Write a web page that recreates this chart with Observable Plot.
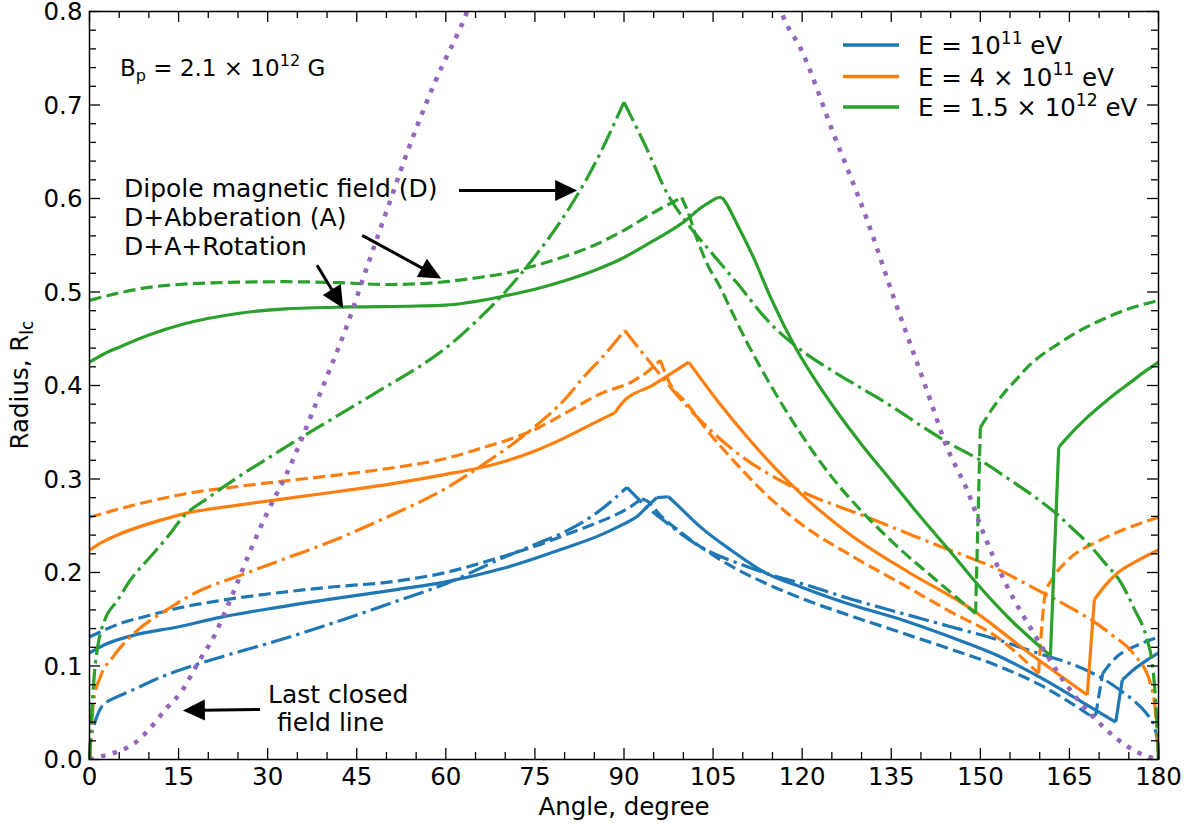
<!DOCTYPE html>
<html><head><meta charset="utf-8">
<script src="https://cdn.jsdelivr.net/npm/d3@7"></script>
<script src="https://cdn.jsdelivr.net/npm/@observablehq/plot@0.6"></script>
<style>body{margin:0;background:#fff;} svg{display:block}</style>
</head><body><div id="chart"></div>
<script>
// ---------------- data (angle in degrees, radius in R_lc) ----------------
const xMajor = [0, 15, 30, 45, 60, 75, 90, 105, 120, 135, 150, 165, 180];
const yMajor = [0, 0.1, 0.2, 0.3, 0.4, 0.5, 0.6, 0.7, 0.8];

// E = 1e11 eV (blue)
const blueSolid = [[0,0.114],[3,0.124],[7.5,0.133],[15,0.142],[22,0.152],[30,0.161],[40,0.171],[52,0.182],[60,0.190],[70,0.205],[80,0.226],[86,0.240],[90,0.252],[92,0.259],[94,0.271],[95.5,0.280],[97.5,0.281],[99,0.272],[103,0.248],[108,0.224],[114,0.199],[120,0.184],[128,0.166],[137,0.149],[145,0.131],[153,0.111],[160,0.088],[167,0.062],[172.8,0.040],[173.9,0.085],[175.8,0.096],[178,0.106],[180,0.114]];
const blueDashed = [[0,0.131],[5,0.145],[10,0.154],[15,0.162],[22,0.170],[30,0.177],[40,0.184],[52,0.191],[60,0.200],[69,0.216],[75,0.228],[80,0.240],[85,0.252],[89,0.263],[91,0.270],[93,0.279],[94,0.276],[96,0.262],[100,0.241],[108,0.207],[114,0.188],[120,0.172],[128,0.154],[137,0.135],[145,0.118],[153,0.100],[160,0.080],[168.5,0.047],[169.4,0.047],[170.6,0.092],[173,0.110],[176,0.121],[180,0.131]];
const blueDashDot = [[0,0],[0.2,0.02],[0.7,0.035],[1.5,0.05],[3,0.062],[5,0.068],[7.5,0.075],[12,0.088],[18.7,0.103],[25,0.115],[30,0.124],[41,0.146],[52,0.170],[60,0.188],[69,0.214],[75,0.230],[80.5,0.245],[85,0.262],[90.5,0.291],[93,0.275],[96,0.259],[103,0.227],[110,0.208],[114,0.199],[120,0.188],[128,0.172],[137,0.156],[145,0.142],[153,0.128],[160,0.113],[165,0.103],[169,0.092],[172,0.081],[174,0.072],[176,0.062],[178,0.049],[179.3,0.035],[179.8,0.02],[180,0]];

// E = 4e11 eV (orange)
const orangeSolid = [[0,0.224],[2,0.232],[5,0.241],[8,0.248],[12,0.256],[16,0.263],[25,0.272],[33,0.279],[40,0.285],[50,0.294],[60,0.305],[65,0.311],[70,0.319],[75,0.330],[80,0.344],[85,0.360],[88.5,0.371],[89.5,0.380],[95,0.401],[100.9,0.425],[105.7,0.384],[111,0.343],[120,0.283],[128,0.241],[138,0.200],[148,0.163],[158,0.115],[168,0.069],[169.2,0.171],[171,0.186],[173,0.199],[176,0.211],[180,0.224]];
const orangeDashed = [[0,0.259],[5,0.268],[10,0.276],[16,0.284],[25,0.292],[33,0.298],[40,0.303],[50,0.311],[60,0.322],[66,0.333],[75,0.353],[80,0.370],[86,0.391],[91.6,0.405],[94,0.415],[96.1,0.427],[97.5,0.405],[100.7,0.380],[104,0.352],[108.4,0.320],[114,0.283],[120,0.251],[128,0.219],[137,0.187],[145,0.158],[153,0.130],[159.8,0.092],[161,0.179],[162,0.192],[164.7,0.213],[170,0.234],[175,0.248],[180,0.259]];
const orangeDashDot = [[0,0],[0.3,0.03],[0.7,0.063],[1.8,0.088],[4,0.110],[7.5,0.135],[13,0.160],[18.7,0.181],[25,0.196],[33,0.215],[41,0.234],[50,0.259],[60,0.290],[66.4,0.316],[74.8,0.355],[80,0.385],[83.2,0.409],[87,0.435],[90.1,0.459],[95,0.420],[100.7,0.377],[108.4,0.331],[118.5,0.291],[131,0.259],[142,0.231],[153.4,0.202],[160,0.180],[165,0.163],[169,0.148],[172,0.134],[175.8,0.113],[178.6,0.082],[179.5,0.05],[180,0]];

// E = 1.5e12 eV (green)
const greenSolid = [[0,0.425],[2.5,0.434],[5,0.441],[10,0.454],[16,0.466],[25,0.477],[33,0.482],[44,0.484],[55,0.485],[60,0.486],[63,0.488],[66,0.491],[70,0.496],[75,0.503],[80,0.512],[85,0.523],[89.4,0.535],[95,0.555],[100.7,0.578],[102.3,0.587],[105.7,0.601],[106.5,0.601],[107.1,0.596],[109,0.573],[111.8,0.537],[114.7,0.494],[118.5,0.445],[125.3,0.377],[130,0.337],[135,0.298],[140,0.259],[145,0.222],[148.9,0.192],[155,0.150],[161.8,0.111],[163.2,0.334],[165,0.347],[167.5,0.363],[170,0.377],[172.5,0.390],[175,0.402],[177.5,0.414],[180,0.425]];
const greenDashed = [[0,0.491],[5,0.499],[10,0.505],[15,0.508],[22,0.510],[33,0.511],[42,0.510],[50,0.508],[56,0.509],[60,0.511],[65,0.515],[70,0.520],[75,0.528],[80,0.538],[85,0.550],[90,0.566],[95,0.585],[99.7,0.601],[100.5,0.590],[102.4,0.555],[104,0.530],[106.2,0.505],[108,0.481],[110.8,0.445],[115,0.397],[119.7,0.349],[125,0.302],[131,0.259],[137,0.222],[142,0.195],[149.2,0.156],[150,0.355],[152,0.375],[154,0.392],[156,0.406],[158,0.420],[160,0.431],[163,0.444],[166,0.456],[170,0.469],[175,0.482],[180,0.491]];
const greenDashDot = [[0,0],[0.3,0.04],[0.8,0.09],[1.5,0.125],[2.5,0.148],[4.7,0.170],[7,0.193],[10,0.215],[13,0.237],[16,0.261],[20,0.280],[25,0.302],[30,0.322],[35,0.342],[40,0.361],[45,0.380],[50,0.399],[55,0.418],[60,0.440],[65,0.468],[70,0.500],[75,0.538],[80,0.582],[85,0.636],[90,0.703],[94,0.651],[97.3,0.605],[100.7,0.573],[105,0.540],[109.1,0.509],[114.7,0.466],[120,0.437],[125,0.416],[130,0.397],[135,0.378],[140,0.357],[144,0.341],[150,0.320],[155,0.299],[160,0.277],[163,0.262],[165,0.250],[168,0.232],[171,0.210],[173.6,0.190],[176,0.160],[178,0.130],[179,0.100],[179.5,0.064],[179.8,0.03],[180,0]];

// last closed field line (purple, leaves the frame above 0.8)
const lastClosedLeft = [[0,0],[1.8,0.003],[4.5,0.008],[7.5,0.017],[10,0.032],[13,0.055],[15.3,0.071],[18.7,0.108],[20.4,0.125],[24.3,0.180],[27,0.222],[30,0.265],[33,0.303],[38.6,0.388],[44.3,0.481],[46.1,0.515],[51.2,0.608],[52.4,0.630],[58,0.722],[63.6,0.800],[64.5,0.815]];
const lastClosedRight = [[116,0.808],[116.9,0.793],[119.7,0.761],[125.3,0.669],[131,0.576],[135.2,0.498],[141.6,0.384],[144,0.340],[148.3,0.280],[149.5,0.259],[154.6,0.184],[159,0.135],[164.7,0.078],[170.2,0.038],[175.8,0.010],[180,0]];

const energyLabels = [["E = 10", "11", " eV"], ["E = 4 × 10", "11", " eV"], ["E = 1.5 × 10", "12", " eV"]];
const modelLabels = ["Dipole magnetic field (D)", "D+Abberation (A)", "D+A+Rotation"];
const lastClosedLabel = ["Last closed", "field line"];

// ---------------- styles ----------------
const FONT = "DejaVu Sans";
const C = {blue: "#1f77b4", orange: "#ff7f0e", green: "#2ca02c", purple: "#9467bd"};
const LW = 3.2;
const DASH = {solid: null, dashed: "12.2,5.3", dashdot: "21,5.3,3.3,5.3"};

const W = 1202, H = 830;
const mL = 89, mR = 44, mT = 11, mB = 71;
const pW = W - mL - mR, pH = H - mT - mB;
const kx = pW / 180, ky = pH / 0.8;
const xMinor = d3.range(0, 181, 5).filter(v => v % 15 !== 0);
const yMinor = d3.range(0, 41).map(i => i * 0.02).filter((v, i) => i % 5 !== 0);

// split a polyline at sharp corners (cusps, jumps) so each smooth piece can be drawn with a monotone curve
function pieces(arr) {
  const out = [];
  let id = 0, cur = [arr[0]];
  for (let i = 1; i < arr.length; i++) {
    cur.push(arr[i]);
    if (i < arr.length - 1) {
      const a1 = Math.atan2((arr[i][1] - arr[i-1][1]) * ky, (arr[i][0] - arr[i-1][0]) * kx);
      const a2 = Math.atan2((arr[i+1][1] - arr[i][1]) * ky, (arr[i+1][0] - arr[i][0]) * kx);
      if (Math.abs(a1 - a2) > 25 * Math.PI / 180) {
        out.push(...cur.map(p => ({x: p[0], y: p[1], z: id})));
        id++; cur = [arr[i]];
      }
    }
  }
  out.push(...cur.map(p => ({x: p[0], y: p[1], z: id})));
  return out;
}

function line(arr, color, dash, extra = {}) {
  return Plot.line(pieces(arr), {x: "x", y: "y", z: "z", stroke: color, strokeWidth: LW, curve: "monotone-x",
    strokeDasharray: dash, strokeLinejoin: "round", strokeLinecap: "butt", ...extra});
}

const series = [
  [blueSolid, C.blue, DASH.solid], [blueDashed, C.blue, DASH.dashed], [blueDashDot, C.blue, DASH.dashdot],
  [orangeSolid, C.orange, DASH.solid], [orangeDashed, C.orange, DASH.dashed], [orangeDashDot, C.orange, DASH.dashdot],
  [greenSolid, C.green, DASH.solid], [greenDashed, C.green, DASH.dashed], [greenDashDot, C.green, DASH.dashdot]
];

const tickStyle = {stroke: "#000", strokeWidth: 1.3};
const plot = Plot.plot({
  width: W, height: H,
  marginLeft: mL, marginRight: mR, marginTop: mT, marginBottom: mB,
  style: {fontFamily: FONT, fontSize: "24.5px", background: "#fff", overflow: "visible"},
  x: {domain: [0, 180], axis: null},
  y: {domain: [0, 0.8], axis: null},
  marks: [
    ...series.map(([a, c, d]) => line(a, c, d)),
    line(lastClosedLeft, C.purple, "4.5,7.5", {strokeWidth: 4.5, clip: true}),
    line(lastClosedRight, C.purple, "4.5,7.5", {strokeWidth: 4.5, clip: true}),
    // inward ticks on all four sides
    Plot.tickX(xMajor, {x: d => d, insetTop: pH - 11, ...tickStyle}),
    Plot.tickX(xMajor, {x: d => d, insetBottom: pH - 11, ...tickStyle}),
    Plot.tickX(xMinor, {x: d => d, insetTop: pH - 7, ...tickStyle}),
    Plot.tickX(xMinor, {x: d => d, insetBottom: pH - 7, ...tickStyle}),
    Plot.tickY(yMajor, {y: d => d, insetRight: pW - 11, ...tickStyle}),
    Plot.tickY(yMajor, {y: d => d, insetLeft: pW - 11, ...tickStyle}),
    Plot.tickY(yMinor, {y: d => d, insetRight: pW - 7, ...tickStyle}),
    Plot.tickY(yMinor, {y: d => d, insetLeft: pW - 7, ...tickStyle}),
    Plot.frame({stroke: "#000", strokeWidth: 1.5}),
    // tick labels
    Plot.text(xMajor, {x: d => d, y: () => 0, text: d => String(d), dy: 18, lineAnchor: "middle",
      fontFamily: FONT, fontSize: 24.5, fill: "#000"}),
    Plot.text(yMajor, {x: () => 0, y: d => d, text: d => d.toFixed(1), dx: -7, dy: 1, textAnchor: "end",
      lineAnchor: "middle", fontFamily: FONT, fontSize: 24.5, fill: "#000"}),
    Plot.text(["Angle, degree"], {x: () => 90, y: () => 0, text: d => d, dy: 48, lineAnchor: "middle",
      fontFamily: FONT, fontSize: 24.5, fill: "#000"})
  ]
});
document.getElementById("chart").appendChild(plot);

// ---------------- annotations (math text, legend, arrows) ----------------
const svg = d3.select(plot);
const sx = plot.scale("x"), sy = plot.scale("y");
const g = svg.append("g").attr("font-family", FONT).attr("fill", "#000").attr("text-anchor", "start");

function mathText(x, y, parts, size, attrs = {}) {
  const t = g.append("text").attr("x", x).attr("y", y).attr("font-size", size).attr("text-anchor", "start");
  for (const [k, v] of Object.entries(attrs)) t.attr(k, v);
  let shift = 0;
  for (const [txt, kind] of parts) {
    const target = kind === "sup" ? -0.42 * size : kind === "sub" ? 0.22 * size : 0;
    const s = t.append("tspan").attr("dy", target - shift).text(txt);
    if (kind) s.attr("font-size", 0.7 * size);
    shift = target;
  }
  return t;
}

// y-axis label with subscript
mathText(0, 0, [["Radius, R"], ["lc", "sub"]], 24.5,
  {"text-anchor": "middle", transform: "translate(27.5,385) rotate(-90)"});

// B_p text
mathText(120, 76, [["B"], ["p", "sub"], [" = 2.1 × 10"], ["12", "sup"], [" G"]], 23);

// legend
const legendColors = [C.blue, C.orange, C.green];
const legendY = [45, 76.5, 107];
legendColors.forEach((c, i) => {
  g.append("line").attr("x1", 843).attr("x2", 899).attr("y1", legendY[i]).attr("y2", legendY[i])
    .attr("stroke", c).attr("stroke-width", 3.5);
  const [a, sup, b] = energyLabels[i];
  mathText(918, legendY[i] + 9, [[a], [sup, "sup"], [b]], 24.5);
});

// model labels
const modelBaselines = [197, 226, 255];
modelLabels.forEach((s, i) => g.append("text").attr("x", 124).attr("y", modelBaselines[i])
  .attr("font-size", 25).text(s));
g.append("text").attr("x", 268).attr("y", 703).attr("font-size", 25).text(lastClosedLabel[0]);
g.append("text").attr("x", 277).attr("y", 731).attr("font-size", 25).text(lastClosedLabel[1]);

// arrows, in data coordinates
const arrows = [
  {from: [62.3, 0.608], to: [82.2, 0.608]},
  {from: [46.0, 0.560], to: [59.3, 0.514]},
  {from: [38.4, 0.528], to: [42.8, 0.482]},
  {from: [28.8, 0.053], to: [15.8, 0.052]}
];
for (const {from, to} of arrows) {
  const x1 = sx.apply(from[0]), y1 = sy.apply(from[1]);
  const x2 = sx.apply(to[0]), y2 = sy.apply(to[1]);
  const dx = x2 - x1, dy = y2 - y1, L = Math.hypot(dx, dy);
  const ux = dx / L, uy = dy / L, hl = 22, hw = 10.5;
  const bx = x2 - ux * hl, by = y2 - uy * hl;
  g.append("line").attr("x1", x1).attr("y1", y1).attr("x2", bx + ux * 2).attr("y2", by + uy * 2)
    .attr("stroke", "#000").attr("stroke-width", 3);
  g.append("path").attr("d", `M${x2},${y2}L${bx - uy * hw},${by + ux * hw}L${bx + uy * hw},${by - ux * hw}Z`)
    .attr("fill", "#000");
}
</script>
</body></html>
